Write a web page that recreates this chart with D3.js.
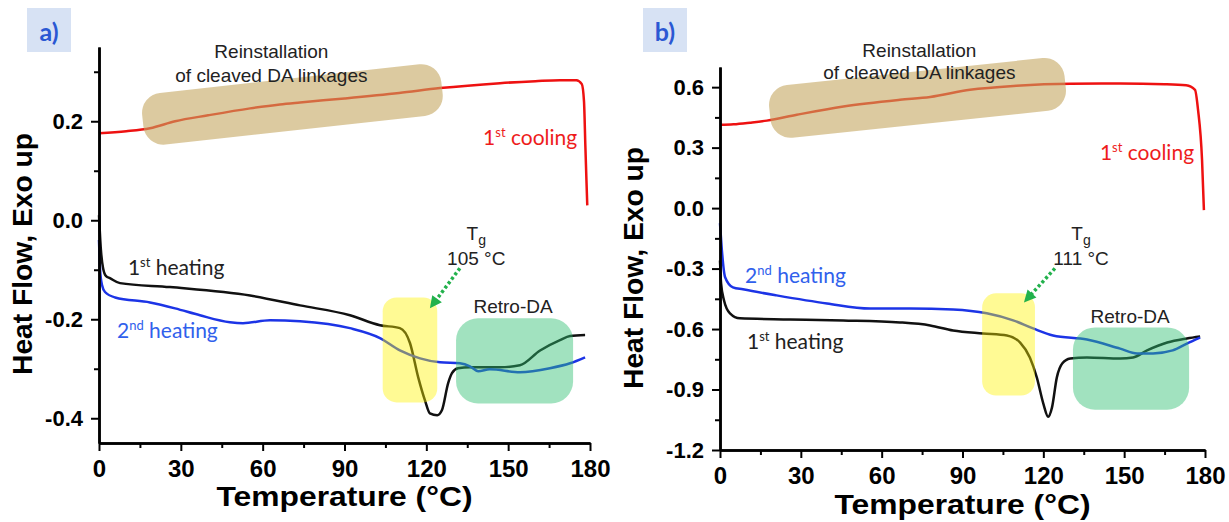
<!DOCTYPE html>
<html lang="en">
<head>
<meta charset="utf-8">
<title>DSC thermograms a) and b)</title>
<script src="https://d3js.org/d3.v7.min.js"></script>
<style>
  html, body { margin: 0; padding: 0; background: #fff; }
  svg { display: block; }
  .axis path, .axis line { stroke: #000; }
  .axis path { stroke-width: 2.5px; }
  .axis line { stroke-width: 2px; }
  .axis text { font-family: Arial, "Liberation Sans", sans-serif; font-weight: bold; fill: #000; }
  .title { font-family: Arial, "Liberation Sans", sans-serif; font-weight: bold; font-size: 28px; fill: #000; }
  .note { font-family: Arial, "Liberation Sans", sans-serif; font-size: 19px; fill: #222; }
  .lbl { font-family: Lato, "Open Sans", sans-serif; font-size: 21px; }
  .curve { fill: none; stroke-width: 2.5px; stroke-linejoin: round; }
</style>
</head>
<body>
<svg width="1229" height="522"></svg>
<script>
// ---- axis ticks ----
const xTicks = [0, 30, 60, 90, 120, 150, 180];
const xMinor = [15, 45, 75, 105, 135, 165];
const aYTicks = [-0.4, -0.2, 0.0, 0.2];
const aYMinor = [-0.3, -0.1, 0.1, 0.3];
const bYTicks = [-1.2, -0.9, -0.6, -0.3, 0.0, 0.3, 0.6];
const bYMinor = [-1.05, -0.75, -0.45, -0.15, 0.15, 0.45];

// ---- panel a) : temperature (°C) / heat flow ----
const aCoolT  = [0, 10, 18.7, 27.9, 40, 55.4, 66.3, 73.7, 90, 110, 125, 147, 160, 169, 175, 177, 177.8, 178.3, 178.7, 179];
const aCoolHF = [0.176, 0.180, 0.186, 0.200, 0.212, 0.226, 0.234, 0.238, 0.246, 0.257, 0.267, 0.277, 0.281, 0.283, 0.283, 0.275, 0.24, 0.15, 0.08, 0.03];
const aHeat1T  = [0, 0.7, 1.5, 2.6, 4, 7.7, 26, 55.4, 73.7, 92, 103, 110.3, 114, 117, 119.5, 121.3, 124, 125.7, 128, 129.4, 131.6, 136, 147, 154.3, 161.7, 169, 172.7, 178.2];
const aHeat1HF = [0.01, -0.06, -0.097, -0.113, -0.117, -0.127, -0.135, -0.152, -0.172, -0.192, -0.212, -0.218, -0.248, -0.317, -0.364, -0.39, -0.394, -0.384, -0.329, -0.309, -0.299, -0.297, -0.297, -0.293, -0.263, -0.242, -0.234, -0.232];
const aHeat2T  = [0, 0.4, 1.1, 2.2, 5.9, 18.7, 27.9, 37, 48, 52.8, 62.7, 73.7, 92, 103, 110.3, 117.7, 125, 132.3, 136, 139, 143.3, 154.3, 165.3, 172.7, 178.2];
const aHeat2HF = [-0.04, -0.10, -0.131, -0.145, -0.156, -0.166, -0.178, -0.192, -0.206, -0.208, -0.202, -0.204, -0.218, -0.238, -0.263, -0.279, -0.287, -0.289, -0.295, -0.305, -0.301, -0.307, -0.299, -0.289, -0.277];

// ---- panel b) ----
const bCoolT  = [0, 5, 11.1, 17.4, 28.5, 45.8, 66.8, 78, 92.8, 110, 130, 148.5, 165, 173, 176.3, 177.4, 178.9, 179.6];
const bCoolHF = [0.413, 0.416, 0.424, 0.434, 0.463, 0.504, 0.537, 0.551, 0.587, 0.607, 0.617, 0.618, 0.615, 0.61, 0.587, 0.49, 0.24, -0.01];
const bHeat1T  = [0, 0.4, 1.5, 3.7, 7.4, 26, 45.7, 66.8, 78, 86.5, 97.6, 106.5, 111.4, 115, 117.6, 120, 121.8, 123.2, 125, 127, 130, 136.2, 148.5, 153.3, 158.5, 166, 173.3, 178.2];
const bHeat1HF = [-0.26, -0.373, -0.458, -0.522, -0.547, -0.552, -0.557, -0.567, -0.582, -0.607, -0.622, -0.632, -0.667, -0.741, -0.841, -0.97, -1.035, -0.99, -0.841, -0.771, -0.746, -0.741, -0.746, -0.741, -0.706, -0.667, -0.647, -0.637];
const bHeat2T  = [0, 0.7, 1.9, 4.8, 8.5, 21, 39.7, 55.7, 70.5, 86.5, 99, 108.8, 116.2, 123.6, 136.2, 148.5, 154.8, 160.7, 168, 173.3, 178.2];
const bHeat2HF = [-0.075, -0.209, -0.343, -0.393, -0.403, -0.433, -0.473, -0.498, -0.498, -0.503, -0.522, -0.557, -0.597, -0.632, -0.652, -0.697, -0.721, -0.721, -0.706, -0.672, -0.642];

const RED = "#ee1111", BLACK = "#111111", BLUE = "#1c34e6";

const panels = [
  {
    tag: "a)", tagX: 27, x0: 99, x1: 590, y0: 47, y1: 443, yDomain: [-0.45, 0.35],
    yTicks: aYTicks, yMinor: aYMinor,
    xTitleY: 506, yTitleX: 32, yTitleY: 254,
    curves: [
      { t: aCoolT, hf: aCoolHF, color: RED },
      { t: aHeat1T, hf: aHeat1HF, color: BLACK },
      { t: aHeat2T, hf: aHeat2HF, color: BLUE }
    ],
    tan: { t: 70.9, hf: 0.234, w: 301, h: 52, angle: -6.3 },
    yellow: { t: [104, 124], hf: [-0.368, -0.156] },
    green: { t: [130.9, 173.8], hf: [-0.370, -0.198] },
    arrow: { from: [132.3, -0.097], to: [121.3, -0.178] },
    reinst: { t: 63.2, hf1: 0.327, hf2: 0.279 },
    cooling: { t: 140.8, hf: 0.152 },
    heat1: { t: 10.6, hf: -0.111 },
    heat2: { t: 6.6, hf: -0.238 },
    tg: { t: 138.3, hf1: -0.04, hf2: -0.091, text: "105 °C" },
    retro: { t: 151.8, hf: -0.188 }
  },
  {
    tag: "b)", tagX: 643, x0: 720, x1: 1205, y0: 67, y1: 450, yDomain: [-1.2, 0.7],
    yTicks: bYTicks, yMinor: bYMinor,
    xTitleY: 514, yTitleX: 643, yTitleY: 268,
    curves: [
      { t: bCoolT, hf: bCoolHF, color: RED },
      { t: bHeat1T, hf: bHeat1HF, color: BLACK },
      { t: bHeat2T, hf: bHeat2HF, color: BLUE }
    ],
    tan: { t: 73.3, hf: 0.547, w: 297, h: 53, angle: -6.0 },
    yellow: { t: [97.3, 116.9], hf: [-0.930, -0.423] },
    green: { t: [131, 174.1], hf: [-1.0, -0.592] },
    arrow: { from: [124.3, -0.299], to: [112.8, -0.468] },
    reinst: { t: 74.0, hf1: 0.751, hf2: 0.642 },
    cooling: { t: 141, hf: 0.239 },
    heat1: { t: 10, hf: -0.697 },
    heat2: { t: 9.3, hf: -0.373 },
    tg: { t: 134.0, hf1: -0.159, hf2: -0.284, text: "111 °C" },
    retro: { t: 152.2, hf: -0.572 }
  }
];

const svg = d3.select("svg");
const fmt = d => d.toFixed(1);   // keeps the plain hyphen minus

// text with a superscript part, e.g. 1st
function supLabel(g, x, y, base, sup, rest, color) {
  const t = g.append("text").attr("class", "lbl").attr("x", x).attr("y", y).attr("fill", color);
  t.append("tspan").text(base);
  t.append("tspan").attr("font-size", "13px").attr("dy", -8).text(sup);
  t.append("tspan").attr("dy", 8).text(rest);
}

function drawPanel(p) {
  const x = d3.scaleLinear().domain([0, 180]).range([p.x0, p.x1]);
  const y = d3.scaleLinear().domain(p.yDomain).range([p.y1, p.y0]);
  const g = svg.append("g");

  // panel tag
  g.append("rect").attr("x", p.tagX).attr("y", 8).attr("width", 44).attr("height", 44).attr("fill", "#d7e2f4");
  g.append("text").attr("x", p.tagX + 22).attr("y", 41).attr("text-anchor", "middle")
    .style("font-family", "Lato, 'Open Sans', sans-serif").style("font-weight", "bold")
    .style("font-size", "25px").attr("fill", "#2b58d3").text(p.tag);

  // curves
  const line = d3.line().x(d => x(d[0])).y(d => y(d[1])).curve(d3.curveMonotoneX);
  p.curves.forEach(c => {
    g.append("path").attr("class", "curve").attr("stroke", c.color).attr("d", line(d3.zip(c.t, c.hf)));
  });

  // translucent highlight boxes on top of the curves
  g.append("rect")
    .attr("x", -p.tan.w / 2).attr("y", -p.tan.h / 2).attr("width", p.tan.w).attr("height", p.tan.h)
    .attr("rx", 20)
    .attr("transform", `translate(${x(p.tan.t)},${y(p.tan.hf)}) rotate(${p.tan.angle})`)
    .attr("fill", "#c4a660").attr("opacity", 0.6);
  g.append("rect")
    .attr("x", x(p.yellow.t[0])).attr("y", y(p.yellow.hf[1]))
    .attr("width", x(p.yellow.t[1]) - x(p.yellow.t[0])).attr("height", y(p.yellow.hf[0]) - y(p.yellow.hf[1]))
    .attr("rx", 14).attr("fill", "#fff200").attr("opacity", 0.42);
  g.append("rect")
    .attr("x", x(p.green.t[0])).attr("y", y(p.green.hf[1]))
    .attr("width", x(p.green.t[1]) - x(p.green.t[0])).attr("height", y(p.green.hf[0]) - y(p.green.hf[1]))
    .attr("rx", 22).attr("fill", "#2fbf71").attr("opacity", 0.45);

  // dotted Tg arrow
  const ax0 = x(p.arrow.from[0]), ay0 = y(p.arrow.from[1]);
  const ax1 = x(p.arrow.to[0]), ay1 = y(p.arrow.to[1]);
  const ang = Math.atan2(ay1 - ay0, ax1 - ax0), head = 12;
  g.append("line")
    .attr("x1", ax0).attr("y1", ay0)
    .attr("x2", ax1 - head * 0.8 * Math.cos(ang)).attr("y2", ay1 - head * 0.8 * Math.sin(ang))
    .attr("stroke", "#22b14c").attr("stroke-width", 3.5).attr("stroke-dasharray", "3,2.5");
  const hp = [
    [ax1, ay1],
    [ax1 - head * Math.cos(ang) + 6 * Math.sin(ang), ay1 - head * Math.sin(ang) - 6 * Math.cos(ang)],
    [ax1 - head * Math.cos(ang) - 6 * Math.sin(ang), ay1 - head * Math.sin(ang) + 6 * Math.cos(ang)]
  ];
  g.append("polygon").attr("points", hp.map(q => q.join(",")).join(" ")).attr("fill", "#22b14c");

  // annotations
  g.append("text").attr("class", "note").attr("text-anchor", "middle")
    .attr("x", x(p.reinst.t)).attr("y", y(p.reinst.hf1)).text("Reinstallation");
  g.append("text").attr("class", "note").attr("text-anchor", "middle")
    .attr("x", x(p.reinst.t)).attr("y", y(p.reinst.hf2)).text("of cleaved DA linkages");
  const tg = g.append("text").attr("class", "note").attr("text-anchor", "middle")
    .attr("x", x(p.tg.t)).attr("y", y(p.tg.hf1));
  tg.append("tspan").text("T");
  tg.append("tspan").attr("font-size", "14px").attr("dy", 5).text("g");
  g.append("text").attr("class", "note").attr("text-anchor", "middle")
    .attr("x", x(p.tg.t)).attr("y", y(p.tg.hf2)).text(p.tg.text);
  g.append("text").attr("class", "note").attr("text-anchor", "middle")
    .attr("x", x(p.retro.t)).attr("y", y(p.retro.hf)).text("Retro-DA");

  supLabel(g, x(p.cooling.t), y(p.cooling.hf), "1", "st", " cooling", "#ee1c1c");
  supLabel(g, x(p.heat1.t), y(p.heat1.hf), "1", "st", " heating", "#222");
  supLabel(g, x(p.heat2.t), y(p.heat2.hf), "2", "nd", " heating", "#3060ec");

  // axes: minor ticks first, then major ticks with labels
  g.append("g").attr("class", "axis").attr("transform", `translate(0,${p.y1})`)
    .call(d3.axisBottom(x).tickValues(xMinor).tickSize(5).tickSizeOuter(0).tickFormat(""));
  g.append("g").attr("class", "axis").attr("transform", `translate(${p.x0},0)`)
    .call(d3.axisLeft(y).tickValues(p.yMinor).tickSize(5).tickSizeOuter(0).tickFormat(""));
  g.append("g").attr("class", "axis").attr("transform", `translate(0,${p.y1})`)
    .call(d3.axisBottom(x).tickValues(xTicks).tickSize(8).tickSizeOuter(0).tickPadding(9))
    .selectAll("text").style("font-size", "24px");
  g.append("g").attr("class", "axis").attr("transform", `translate(${p.x0},0)`)
    .call(d3.axisLeft(y).tickValues(p.yTicks).tickSize(8).tickSizeOuter(0).tickPadding(8).tickFormat(fmt))
    .selectAll("text").style("font-size", "22px");

  // axis titles (the source figure is slightly stretched horizontally)
  g.append("text").attr("class", "title").attr("text-anchor", "middle")
    .attr("x", (p.x0 + p.x1) / 2).attr("y", p.xTitleY)
    .attr("textLength", 256).attr("lengthAdjust", "spacingAndGlyphs")
    .text("Temperature (°C)");
  g.append("text").attr("class", "title").attr("text-anchor", "middle")
    .attr("transform", `translate(${p.yTitleX},${p.yTitleY}) rotate(-90)`)
    .attr("textLength", 242).attr("lengthAdjust", "spacingAndGlyphs")
    .text("Heat Flow, Exo up");
}

panels.forEach(drawPanel);
</script>
</body>
</html>
